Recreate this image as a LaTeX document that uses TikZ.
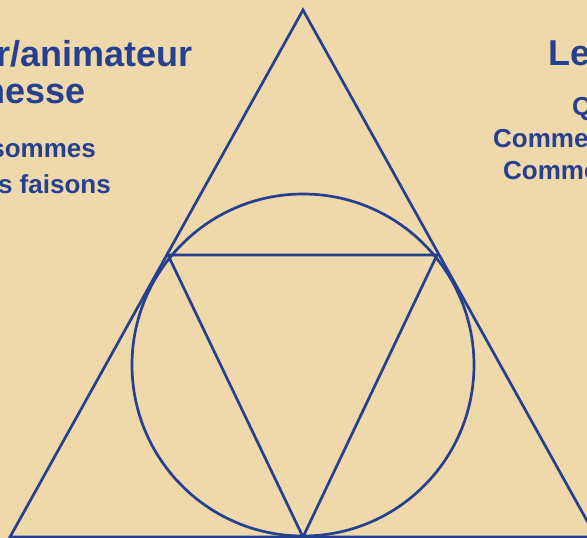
\documentclass[tikz,border=0pt]{standalone}
\usepackage{fontspec}
\setmainfont{Liberation Sans}
\definecolor{bg}{RGB}{239,216,169}
\definecolor{navy}{RGB}{37,64,145}
\begin{document}
\begin{tikzpicture}[x=1pt,y=-1pt,
  edge/.style={draw=navy, line width=2.7pt, line join=miter},
  titletext/.style={inner sep=0pt, text=navy, font=\fontsize{36}{36}\selectfont\bfseries},
  subtext/.style={inner sep=0pt, text=navy, font=\fontsize{26}{26}\selectfont\bfseries}]
\fill[bg] (0,0) rectangle (587,538);
\useasboundingbox (0,0) rectangle (587,538);
% outer triangle
\coordinate (A) at (303,10);
\coordinate (B) at (10,537);
\coordinate (C) at (596,537);
% inner triangle
\coordinate (P) at (168,255);
\coordinate (Q) at (437,255);
\coordinate (R) at (303,537);
\coordinate (O) at (303,365);
\draw[edge] (A) -- (B) -- (C) -- cycle;
\draw[edge] (P) -- (Q) -- (R) -- cycle;
\draw[edge] (O) circle (171);
% left texts
\node[titletext, anchor=base east] (t1) at (193,66) {r/animateur};
\node[titletext, anchor=base east] (t2) at (86,103) {nesse};
\node[subtext, anchor=base east] (s1) at (96,157) {sommes};
\node[subtext, anchor=base east] (s2) at (111,193) {s faisons};
% right texts
\node[titletext, anchor=base west] (r1) at (548,65) {Le};
\node[subtext, anchor=base west] (r2) at (572,115) {Q};
\node[subtext, anchor=base west] (r3) at (493,147) {Comme};
\node[subtext, anchor=base west] (r4) at (503,179) {Comme};
\end{tikzpicture}
\end{document}
